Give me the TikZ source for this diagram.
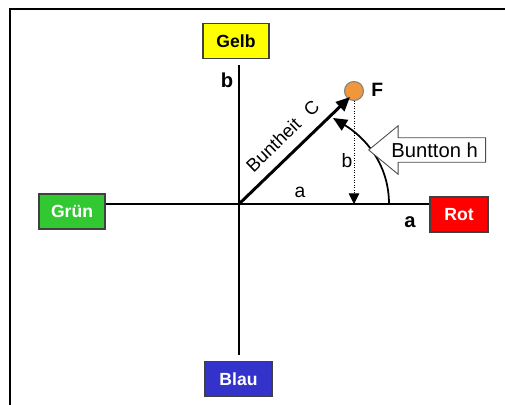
\documentclass[tikz,border=0pt]{standalone}
\usepackage{fontspec}
\setmainfont{Liberation Sans}
\usepackage{tikz}
\usetikzlibrary{arrows.meta,shapes.arrows}
\definecolor{gelb}{RGB}{255,255,0}
\definecolor{gruen}{RGB}{50,200,50}
\definecolor{rot}{RGB}{255,0,0}
\definecolor{blau}{RGB}{51,51,204}
\definecolor{farbort}{RGB}{240,150,60}

\begin{document}
\begin{tikzpicture}[x=0.02cm,y=-0.02cm,>={Triangle[length=8pt,width=7pt]},
semithick]
\tikzstyle{farbe}=[draw=black!75,line width=0.6pt,minimum height=0.7cm,inner sep=0pt,
  font=\fontsize{10}{12}\selectfont\bfseries,text=white]
\tikzstyle{achse}=[line width=1.7pt]
\tikzstyle{beschr}=[font=\fontsize{11}{13}\selectfont,inner sep=1pt]
\tikzstyle{schild}=[single arrow,draw=black!70,fill=white,line width=0.5pt,
  shape border rotate=180,single arrow head extend=0.24cm,single arrow tip angle=79,
  minimum height=2.34cm,inner xsep=2pt,inner ysep=2.6pt,text height=8.3pt,text depth=0pt,
  font=\fontsize{11.5}{13}\selectfont]
\useasboundingbox (0,0) rectangle (505,405);
\draw[achse] (10,405) -- (10,9) -- (505,9);
\node[farbe,fill=gelb,text=black,minimum width=1.32cm] (gelb) at (236,41) {Gelb};
\node[farbe,fill=gruen,minimum width=1.32cm] (gruen) at (72,211.5) {Grün};
\node[farbe,fill=rot,minimum width=1.16cm] (rot) at (459,214.5) {Rot};
\node[farbe,fill=blau,minimum width=1.34cm] (blau) at (238.5,379) {Blau};
\coordinate (O) at (239,204);
\coordinate (C) at (350,97);
\coordinate (h0) at (389,204);
\coordinate (h1) at (333,118);
\node[circle,draw=black!50,fill=farbort,minimum size=0.38cm,inner sep=0pt] (F) at (354,91) {};
\node[beschr,font=\fontsize{11}{13}\selectfont\bfseries,anchor=west] (fname) at (369,90) {F};
% Achsen
\draw[achse] (gruen.east |- O) -- (rot.west |- O);
\draw[achse,shorten <=0.12cm,shorten >=0.12cm] (O |- gelb.south) -- (O |- blau.north);
\node[beschr,font=\fontsize{11.5}{13}\selectfont\bfseries] (ab) at (410,222) {a};
\node[beschr,font=\fontsize{11.5}{13}\selectfont\bfseries] (bb) at (227,80) {b};
% Buntheit, Buntton
\draw[->,line width=1.7pt] (O) -- (C) node[beschr,font=\fontsize{10.5}{13}\selectfont,pos=0.51,above=5pt,sloped] (cname) {Buntheit\hspace{7pt}C};
\draw[->,densely dotted,thin,>={Triangle[length=6pt,width=6pt]}] (F.south) -- (F.south |- O);
\draw[->,line width=1pt] (h0) .. controls (389,165) and (366,138) .. (h1);
\node[beschr] (a) at (300,192) {a};
\node[beschr] (b) at (347,161) {b};
\node[schild,anchor=tip] (hue) at (368,150) {Buntton h};
\end{tikzpicture}
\end{document}
